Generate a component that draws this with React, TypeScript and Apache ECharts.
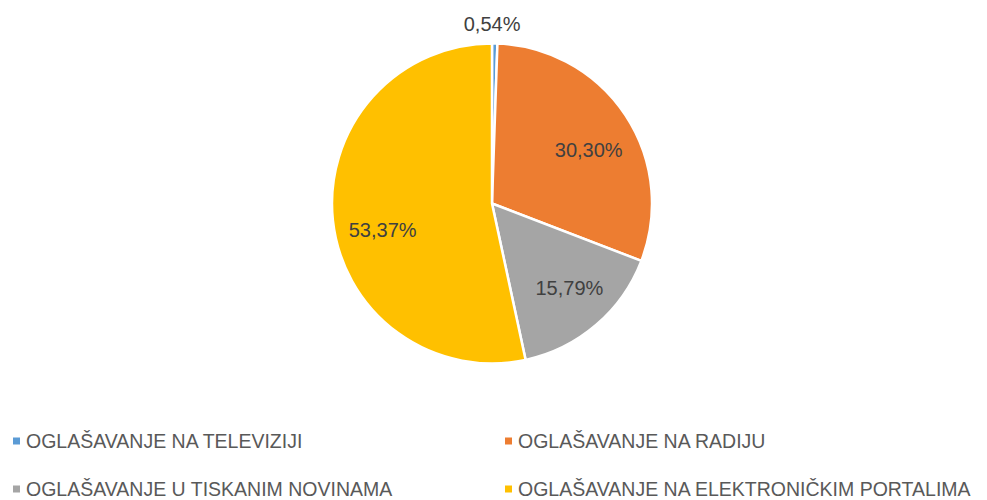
import React, { useEffect, useRef } from "react";
import * as echarts from "echarts";

const categories = [
  "OGLAŠAVANJE NA TELEVIZIJI",
  "OGLAŠAVANJE NA RADIJU",
  "OGLAŠAVANJE U TISKANIM NOVINAMA",
  "OGLAŠAVANJE NA ELEKTRONIČKIM PORTALIMA",
];
const shares = [0.54, 30.3, 15.79, 53.37];
const colors = ["#5B9BD5", "#ED7D31", "#A5A5A5", "#FFC000"];
const smallThreshold = 2;

// small label nudges (Excel "best fit" placement), in px
const labelNudge: [number, number][] = [
  [-3, 3],
  [0, 11],
  [2, -4],
  [6, 14],
];

const fmt = (v: number) => v.toFixed(2).replace(".", ",") + "%";
const FONT = "'Liberation Sans', Arial, sans-serif";

export default function App() {
  const ref = useRef<HTMLDivElement>(null);
  useEffect(() => {
    if (!ref.current) return;
    const chart = echarts.init(ref.current, undefined, { renderer: "svg" });
    const mainData = categories.map((name, i) => ({
      name,
      value: shares[i],
      itemStyle: { color: colors[i] },
    }));
    const labelData = (showSmall: boolean) =>
      categories.map((name, i) => ({
        name,
        value: shares[i],
        itemStyle: { color: "rgba(0,0,0,0)", borderWidth: 0 },
        label: { show: showSmall ? shares[i] < smallThreshold : shares[i] >= smallThreshold },
      }));
    const labelStyle = {
      position: "inside" as const,
      formatter: (p: any) => fmt(p.value),
      color: "#404040",
      fontSize: 20,
      fontFamily: FONT,
    };
    const nudge = (p: any) => {
      const n = labelNudge[p.dataIndex];
      return { dx: n[0], dy: n[1] };
    };
    const legendBase = {
      orient: "vertical" as const,
      icon: "rect",
      itemWidth: 9,
      itemHeight: 9,
      itemGap: 28,
      textStyle: { color: "#595959", fontSize: 19.5, fontFamily: FONT, lineHeight: 20 },
      selectedMode: false,
      top: 431,
      padding: 0,
    };
    chart.setOption({
      animation: false,
      backgroundColor: "#ffffff",
      legend: [
        { ...legendBase, left: 11, data: [categories[0], categories[2]] },
        { ...legendBase, left: 503, data: [categories[1], categories[3]] },
      ],
      series: [
        {
          type: "pie",
          center: [492, 203.5],
          radius: [0, 160],
          startAngle: 90,
          clockwise: true,
          data: mainData,
          label: { show: false },
          labelLine: { show: false },
          itemStyle: { borderColor: "#ffffff", borderWidth: 2.5 },
          emphasis: { disabled: true },
          silent: true,
        },
        {
          type: "pie",
          center: [492, 203.5],
          radius: [0, 226],
          startAngle: 90,
          clockwise: true,
          data: labelData(false),
          label: labelStyle,
          labelLine: { show: false },
          labelLayout: nudge,
          emphasis: { disabled: true },
          silent: true,
          z: 3,
        },
        {
          type: "pie",
          center: [492, 203.5],
          radius: [170, 190],
          startAngle: 90,
          clockwise: true,
          data: labelData(true),
          label: labelStyle,
          labelLine: { show: false },
          labelLayout: nudge,
          emphasis: { disabled: true },
          silent: true,
          z: 3,
        },
      ],
    });
    return () => chart.dispose();
  }, []);
  return <div ref={ref} style={{ width: 987, height: 500, position: "absolute", left: 0, top: 0 }} />;
}
